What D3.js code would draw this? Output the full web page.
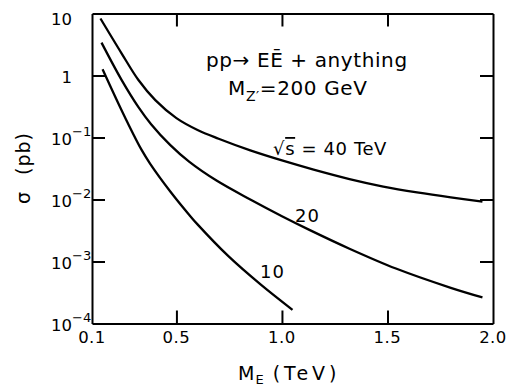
<!DOCTYPE html>
<html>
<head>
<meta charset="utf-8">
<script src="https://cdn.jsdelivr.net/npm/d3@7"></script>
<style>
  body { margin: 0; background: #fff; }
  svg { display: block; }
  text { font-family: "DejaVu Sans", sans-serif; fill: #000; }
</style>
</head>
<body>
<svg width="506" height="387"></svg>
<script>
// axis ticks
const xTicks = [0.1, 0.5, 1.0, 1.5, 2.0];
const xTickLabels = ["0.1", "0.5", "1.0", "1.5", "2.0"];
const yTicks = [10, 1, 0.1, 0.01, 0.001, 0.0001];
const yTickBase = ["10", "1", "10", "10", "10", "10"];
const yTickExp = ["", "", "\u22121", "\u22122", "\u22123", "\u22124"];

// sqrt(s) = 40 TeV
const mass40 = [0.14, 0.24, 0.32, 0.40, 0.50, 0.60, 0.70, 0.85, 1.00, 1.15, 1.32, 1.48, 1.64, 1.80, 1.95];
const sigma40 = [8.3, 2.28, 0.845, 0.40, 0.205, 0.132, 0.0955, 0.062, 0.0427, 0.0304, 0.0214, 0.0162, 0.0130, 0.0108, 0.00927];

// sqrt(s) = 20 TeV
const mass20 = [0.145, 0.24, 0.32, 0.38, 0.47, 0.56, 0.69, 0.85, 1.00, 1.13, 1.32, 1.54, 1.80, 1.95];
const sigma20 = [3.39, 0.851, 0.309, 0.164, 0.076, 0.0408, 0.0202, 0.0100, 0.00538, 0.00324, 0.00161, 0.00077, 0.000376, 0.000263];

// sqrt(s) = 10 TeV
const mass10 = [0.15, 0.21, 0.27, 0.335, 0.375, 0.47, 0.56, 0.60, 0.745, 0.90, 1.05];
const sigma10 = [1.26, 0.455, 0.17, 0.063, 0.038, 0.0136, 0.00569, 0.00397, 0.00123, 0.000423, 0.000166];

const curveLabels = [
    { text: "20", m: 1.062, s: 0.00434 },
    { text: "10", m: 0.896, s: 0.000542 }
];

const svg = d3.select("svg");

const x = d3.scaleLinear()
    .domain([0.1, 2.0])
    .range([92, 493]);

const y = d3.scaleLog()
    .domain([1e-4, 10])
    .range([323.5, 13.5]);

// frame + inward ticks on all four sides
const tick = 13;
const frame = svg.append("g").attr("class", "frame");

frame.append("g")
    .attr("transform", `translate(0, ${y(1e-4)})`)
    .call(d3.axisBottom(x).tickValues([0.5, 1.0, 1.5]).tickSizeInner(-tick).tickSizeOuter(0).tickFormat(""));
frame.append("g")
    .attr("transform", `translate(0, ${y(10)})`)
    .call(d3.axisTop(x).tickValues([0.5, 1.0, 1.5]).tickSizeInner(-tick).tickSizeOuter(0).tickFormat(""));
frame.append("g")
    .attr("transform", `translate(${x(0.1)}, 0)`)
    .call(d3.axisLeft(y).tickValues([1, 0.1, 0.01, 0.001]).tickSizeInner(-tick).tickSizeOuter(0).tickFormat(""));
frame.append("g")
    .attr("transform", `translate(${x(2.0)}, 0)`)
    .call(d3.axisRight(y).tickValues([1, 0.1, 0.01, 0.001]).tickSizeInner(-tick).tickSizeOuter(0).tickFormat(""));

frame.selectAll("path.domain, line")
    .attr("stroke", "#000")
    .attr("stroke-width", 2);

// x tick labels
svg.selectAll(".xlab")
    .data(xTicks)
    .enter()
    .append("text")
    .attr("class", "xlab")
    .attr("x", d => x(d))
    .attr("y", y(1e-4) + 19)
    .attr("text-anchor", "middle")
    .attr("font-size", "16.5px")
    .attr("letter-spacing", "0.5px")
    .text((d, i) => xTickLabels[i]);

// y tick labels, 10 with superscript exponent
const ylab = svg.selectAll(".ylab")
    .data(yTicks)
    .enter()
    .append("g")
    .attr("class", "ylab");

ylab.append("text")
    .attr("x", 72)
    .attr("y", d => Math.max(y(d) + 7, 25))
    .attr("text-anchor", "end")
    .attr("font-size", "16.5px")
    .text((d, i) => yTickBase[i]);

ylab.append("text")
    .attr("x", 72)
    .attr("y", d => Math.max(y(d) + 7, 25) - 9)
    .attr("font-size", "13px")
    .text((d, i) => yTickExp[i]);

// curves
const line = d3.line()
    .x(d => x(d[0]))
    .y(d => y(d[1]))
    .curve(d3.curveCatmullRom.alpha(0.5));

const series = [
    d3.zip(mass40, sigma40),
    d3.zip(mass20, sigma20),
    d3.zip(mass10, sigma10)
];

svg.selectAll(".curve")
    .data(series)
    .enter()
    .append("path")
    .attr("class", "curve")
    .attr("d", line)
    .attr("fill", "none")
    .attr("stroke", "#000")
    .attr("stroke-width", 2.3);

// curve labels
const sLabel = svg.append("text")
    .attr("x", x(0.958))
    .attr("y", y(0.0522))
    .attr("font-size", "18px")
    .attr("letter-spacing", "0.6px");
sLabel.append("tspan").text("\u221A");
sLabel.append("tspan").attr("text-decoration", "overline").text("s");
sLabel.append("tspan").text(" = 40 TeV");

svg.selectAll(".clab")
    .data(curveLabels)
    .enter()
    .append("text")
    .attr("class", "clab")
    .attr("x", d => x(d.m))
    .attr("y", d => y(d.s))
    .attr("font-size", "18px")
    .attr("letter-spacing", "1px")
    .text(d => d.text);

// process annotation
const t1 = svg.append("text")
    .attr("x", x(0.6403))
    .attr("y", y(1.387))
    .attr("font-size", "20px")
    .attr("letter-spacing", "0.6px");
t1.append("tspan").text("pp\u2192 E\u0112 + anything");

const t2 = svg.append("text")
    .attr("x", x(0.7445))
    .attr("y", y(0.4848))
    .attr("font-size", "20px")
    .attr("letter-spacing", "0.6px");
t2.append("tspan").text("M");
t2.append("tspan").attr("font-size", "14px").attr("dy", 6).text("Z\u2032");
t2.append("tspan").attr("dy", -6).text("=200 GeV");

// axis titles
const xt = svg.append("text")
    .attr("x", 238)
    .attr("y", 380)
    .attr("font-size", "19px");
xt.append("tspan").text("M");
xt.append("tspan").attr("font-size", "13px").attr("dx", 1).attr("dy", 4).text("E");
xt.append("tspan").attr("dy", -4).attr("dx", 9).attr("letter-spacing", "4px").text("(TeV)");

const yt = svg.append("text")
    .attr("transform", "translate(30, 204) rotate(-90)")
    .attr("font-size", "19px")
    .attr("letter-spacing", "1px");
yt.append("tspan").text("\u03C3");
yt.append("tspan").attr("dx", 16).text("(pb)");
</script>
</body>
</html>
